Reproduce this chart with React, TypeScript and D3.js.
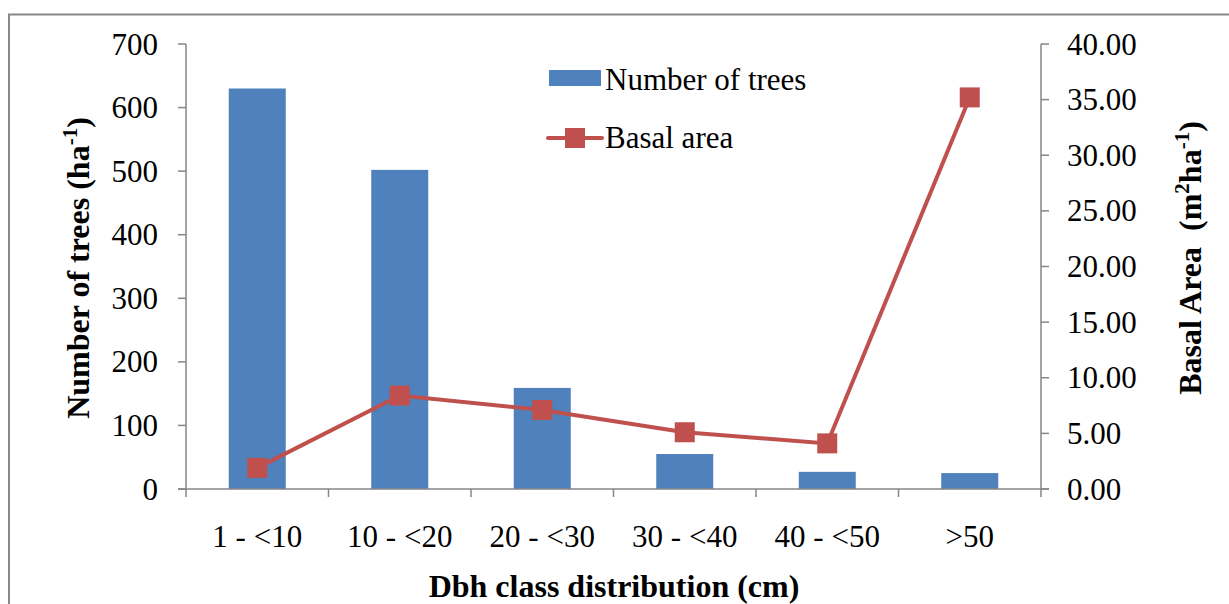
import React from "react";
import * as d3 from "d3";

const categories = ["1 - <10", "10 - <20", "20 - <30", "30 - <40", "40 - <50", ">50"];
const trees = [630, 502, 159, 55, 27, 25];
const basal = [1.9, 8.4, 7.1, 5.1, 4.1, 35.2];
const leftTicks = [0, 100, 200, 300, 400, 500, 600, 700];
const rightTicks = [0, 5, 10, 15, 20, 25, 30, 35, 40];

const W = 1229, H = 604;
const X0 = 186, X1 = 1041, Y0 = 489, Y1 = 44;
const FONT = "Liberation Serif, DejaVu Serif, serif";
const AXIS = "#868686";
const BLUE = "#4F81BD";
const RED = "#C0504D";

export default function App() {
  const x = d3.scaleBand<string>().domain(categories).range([X0, X1]).paddingInner(0.6).paddingOuter(0.3);
  const band = d3.scaleBand<string>().domain(categories).range([X0, X1]);
  const yL = d3.scaleLinear().domain([0, 700]).range([Y0, Y1]);
  const yR = d3.scaleLinear().domain([0, 40]).range([Y0, Y1]);
  const cx = (c: string) => (band(c) as number) + band.bandwidth() / 2;
  const line = d3.line<number>().x((_, i) => cx(categories[i])).y((d) => yR(d));
  const boundaries = categories.map((c) => band(c) as number).concat([X1]);
  const ts = { fontFamily: FONT };

  return (
    <svg width={W} height={H} style={{ position: "absolute", left: 0, top: 0, fontFamily: FONT }}>
      <rect x={0} y={0} width={W} height={H} fill="#fff" />
      <path d={`M9,${H} V14.5 H${W}`} fill="none" stroke="#888" strokeWidth={2} />
      {trees.map((v, i) => (
        <rect key={i} x={x(categories[i])} y={yL(v)} width={x.bandwidth()} height={Y0 - yL(v)} fill={BLUE} />
      ))}
      <g stroke={AXIS} strokeWidth={1.5} fill="none">
        <line x1={X0} x2={X0} y1={Y1} y2={Y0} />
        <line x1={X1} x2={X1} y1={Y1} y2={Y0} />
        <line x1={X0 - 8} x2={X1 + 8} y1={Y0} y2={Y0} />
        {leftTicks.map((t) => (
          <line key={t} x1={X0 - 8} x2={X0} y1={yL(t)} y2={yL(t)} />
        ))}
        {rightTicks.map((t) => (
          <line key={t} x1={X1} x2={X1 + 8} y1={yR(t)} y2={yR(t)} />
        ))}
        {boundaries.map((b, i) => (
          <line key={i} x1={b} x2={b} y1={Y0} y2={Y0 + 8} />
        ))}
      </g>
      <path d={line(basal) as string} fill="none" stroke={RED} strokeWidth={4} />
      {basal.map((v, i) => (
        <rect key={i} x={cx(categories[i]) - 10} y={yR(v) - 10} width={20} height={20} fill={RED} />
      ))}
      <g fontSize={31} fill="#000">
        {leftTicks.map((t) => (
          <text key={t} style={ts} x={158} y={yL(t)} dy="0.34em" textAnchor="end">{t}</text>
        ))}
        {rightTicks.map((t) => (
          <text key={t} style={ts} x={1067} y={yR(t)} dy="0.34em" textAnchor="start">{t.toFixed(2)}</text>
        ))}
        {categories.map((c) => (
          <text key={c} style={ts} x={cx(c)} y={547} textAnchor="middle">{c}</text>
        ))}
      </g>
      <text style={ts} x={614} y={597} textAnchor="middle" fontSize={32} fontWeight="bold">Dbh class distribution (cm)</text>
      <text style={ts} transform="translate(89,268) rotate(-90)" textAnchor="middle" fontSize={32} fontWeight="bold">
        Number of trees (ha<tspan dy={-12} fontSize={21}>-1</tspan><tspan dy={12}>)</tspan>
      </text>
      <text style={ts} transform="translate(1201,258) rotate(-90)" textAnchor="middle" fontSize={32} fontWeight="bold" xmlSpace="preserve">
        Basal Area  (m<tspan dy={-12} fontSize={21}>2</tspan><tspan dy={12}>ha</tspan><tspan dy={-12} fontSize={21}>-1</tspan><tspan dy={12}>)</tspan>
      </text>
      <rect x={549} y={70} width={52} height={16} fill={BLUE} />
      <text style={ts} x={605} y={90} fontSize={31}>Number of trees</text>
      <line x1={548} x2={602} y1={138} y2={138} stroke={RED} strokeWidth={4} strokeLinecap="round" />
      <rect x={565} y={128} width={20} height={20} fill={RED} />
      <text style={ts} x={605} y={148} fontSize={31}>Basal area</text>
    </svg>
  );
}
